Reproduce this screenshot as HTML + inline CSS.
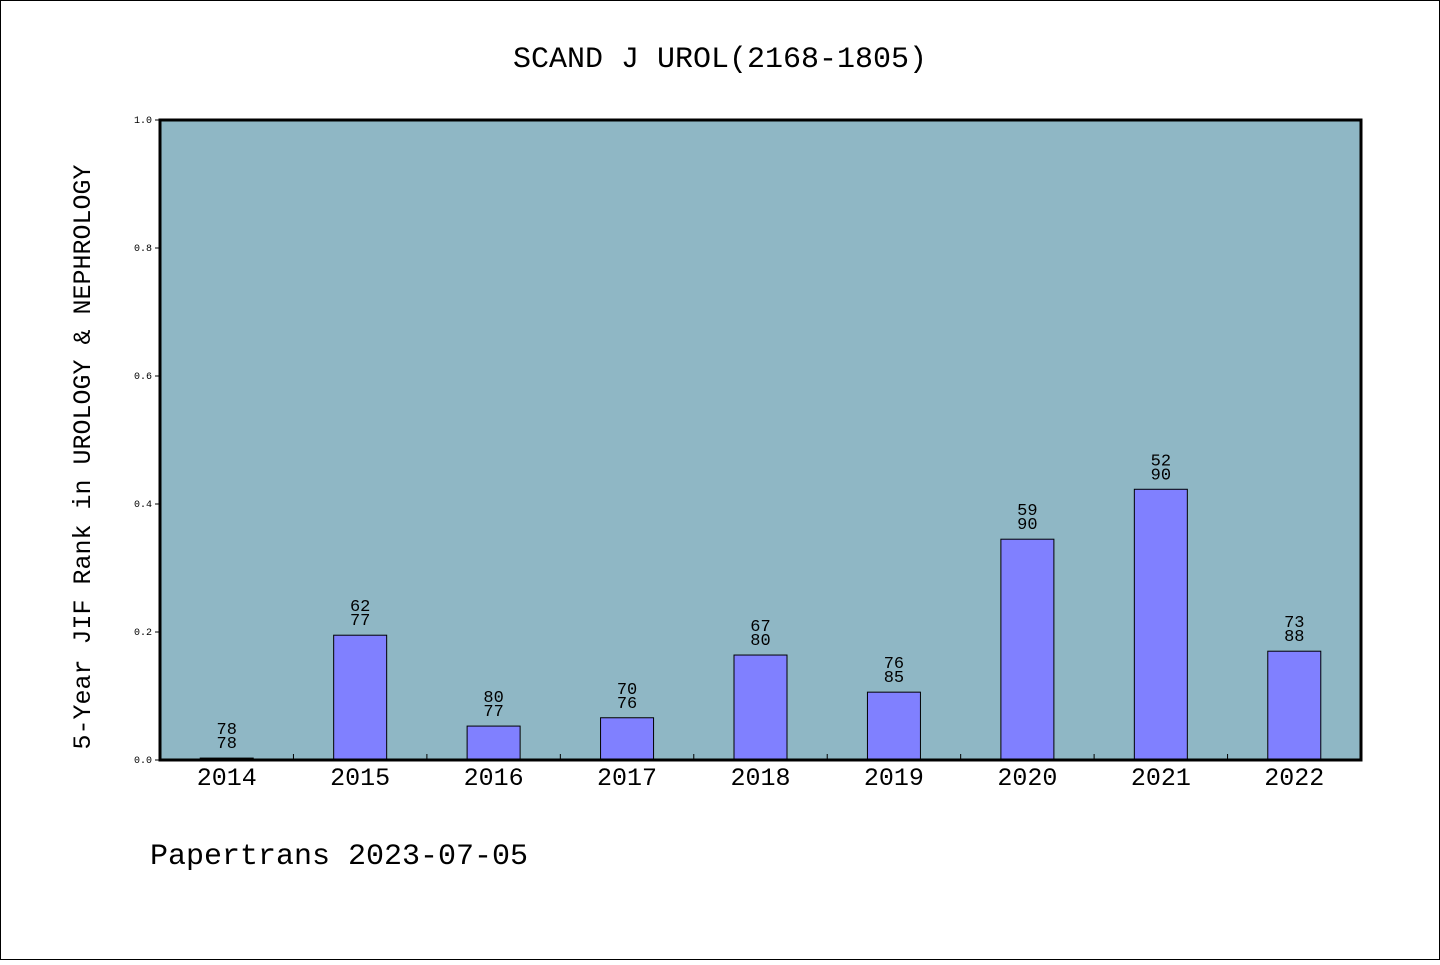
<!DOCTYPE html>
<html><head><meta charset="utf-8"><style>
html,body{margin:0;padding:0;background:#fff}
svg text{font-family:"WenQuanYi Zen Hei","Liberation Mono",monospace}
</style></head><body>
<svg id="chart" width="1440" height="960" xmlns="http://www.w3.org/2000/svg">
<rect x="0.5" y="0.5" width="1439" height="959" fill="#fff" stroke="#000"/>
<text x="720" y="67" font-size="30" text-anchor="middle">SCAND J UROL(2168-1805)</text>
<rect x="160" y="120" width="1201" height="640" fill="#8fb7c5"/>
<g id="marks"></g>
<rect x="160" y="120" width="1201" height="640" fill="none" stroke="#000" stroke-width="3"/>
<text transform="translate(90,457) rotate(-90)" font-size="25" text-anchor="middle">5-Year JIF Rank in UROLOGY &amp; NEPHROLOGY</text>
<text x="150" y="864" font-size="30">Papertrans 2023-07-05</text>
</svg>
<script>
const years=["2014","2015","2016","2017","2018","2019","2020","2021","2022"];
const values=[0.003,0.195,0.053,0.066,0.164,0.106,0.345,0.423,0.170];
const topLabels=["78","62","80","70","67","76","59","52","73"];
const bottomLabels=["78","77","77","76","80","85","90","90","88"];
const yTicks=[0,0.2,0.4,0.6,0.8,1.0];
const yTickLabels=["0.0","0.2","0.4","0.6","0.8","1.0"];
const NS="http://www.w3.org/2000/svg";
const X0=160,W=1201,Y0=760,H=640,step=W/years.length,bw=53;
const y=v=>Y0-v*H, xc=i=>X0+step*(i+0.5);
const g=document.getElementById('marks');
function mk(t,a){const e=document.createElementNS(NS,t);for(const k in a)e.setAttribute(k,a[k]);g.appendChild(e);return e;}
yTicks.forEach((v,i)=>{
 const l=mk('line',{x1:X0-5,x2:X0,y1:y(v),y2:y(v),stroke:'#000'});
 
 
 const t=mk('text',{x:X0-8,y:y(v)+3,'font-size':10,'text-anchor':'end'});
 t.textContent=yTickLabels[i];
 
 
});
for(let i=1;i<years.length;i++){
 const l=mk('line',{x1:X0+step*i,x2:X0+step*i,y1:Y0,y2:Y0-6,stroke:'#000'});
 
 
}
years.forEach((yr,i)=>{
 const b=mk('rect',{x:xc(i)-bw/2,y:y(values[i]),width:bw,height:values[i]*H,fill:'#8080ff',stroke:'#000','stroke-width':1});
 
 
 const t1=mk('text',{x:xc(i),y:y(values[i])-24,'font-size':17,'text-anchor':'middle'});
 t1.textContent=topLabels[i];
 
 
 const t2=mk('text',{x:xc(i),y:y(values[i])-10,'font-size':17,'text-anchor':'middle'});
 t2.textContent=bottomLabels[i];
 
 
 const xl=mk('text',{x:xc(i),y:785,'font-size':25,'text-anchor':'middle'});
 xl.textContent=yr;
 
 
});
</script>
</body></html>
